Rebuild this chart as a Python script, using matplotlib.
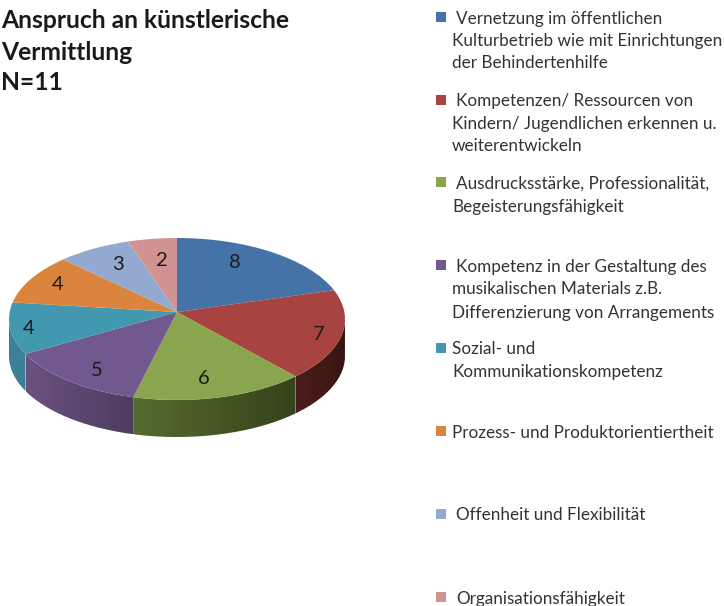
import matplotlib
matplotlib.use('Agg')
import matplotlib.pyplot as plt
from matplotlib.colors import to_rgb
from matplotlib.patches import PathPatch, Rectangle
from matplotlib.path import Path
import numpy as np

plt.rcParams['font.family'] = ['Lato', 'DejaVu Sans']

title_lines = ['Anspruch an künstlerische', 'Vermittlung', 'N=11']
values = [8, 7, 6, 5, 4, 4, 3, 2]
colors = ['#4572A7', '#A74442', '#89A54E', '#71588F', '#4198AF', '#DB843D', '#93A9CF', '#D19392']
# linke/rechte Farbe der sichtbaren Seitenwand
side_colors = {
    1: ('#4A1E1C', '#3A1412'),
    2: ('#556B2E', '#36431B'),
    3: ('#6A5280', '#4D3B60'),
    4: ('#3B8096', '#3B8096'),
}
legend_labels = [
    ['Vernetzung im öffentlichen', 'Kulturbetrieb wie mit Einrichtungen', 'der Behindertenhilfe'],
    ['Kompetenzen/ Ressourcen von', 'Kindern/ Jugendlichen erkennen u.', 'weiterentwickeln'],
    ['Ausdrucksstärke, Professionalität,', 'Begeisterungsfähigkeit'],
    ['Kompetenz in der Gestaltung des', 'musikalischen Materials z.B.', 'Differenzierung von Arrangements'],
    ['Sozial- und', 'Kommunikationskompetenz'],
    ['Prozess- und Produktorientiertheit'],
    ['Offenheit und Flexibilität'],
    ['Organisationsfähigkeit'],
]

W, H = 724, 606
CX, CY, RX, RY = 177, 319, 168, 81
DEPTH = 37
PERSP = 0.086  # Perspektive: Tortenmitte liegt oberhalb der Ellipsenmitte
ratio = RY / RX


def persp(x, y):
    """Perspektive auf dem Einheitskreis."""
    d = 1 + PERSP * y
    return x * np.sqrt(1 - PERSP ** 2) / d, (y + PERSP) / d


fig = plt.figure(figsize=(W / 100, H / 100), dpi=100)

# Tortenachse: y-Skala gestaucht, damit der Kreis zur Ellipse wird
ax = fig.add_axes([0, 0, 1, 1])
ymax = H / ratio
center = (CX, (H - CY) / ratio)

fracs = np.cumsum([0] + values) / sum(values)
angles = np.radians(90 - 360 * fracs)
px, py = persp(np.cos(angles), np.sin(angles))
rim = np.degrees(np.unwrap(np.arctan2(py, px)))

# Seitenwand mit Farbverlauf
for i, (c_left, c_right) in side_colors.items():
    t_a, t_b = rim[i + 1], rim[i]
    t_a, t_b = max(t_a, -180), min(t_b, 0)
    t = np.radians(np.linspace(t_a, t_b, 80))
    x = CX + RX * np.cos(t)
    y_top = center[1] + RX * np.sin(t)
    y_bot = y_top - DEPTH / ratio
    verts = np.r_[np.c_[x, y_top], np.c_[x[::-1], y_bot[::-1]], [[x[0], y_top[0]]]]
    patch = PathPatch(Path(verts), transform=ax.transData, facecolor='none', edgecolor='none')
    ax.add_patch(patch)
    grad = np.linspace(np.array(to_rgb(c_left)), np.array(to_rgb(c_right)), 64)[None, :, :]
    im = ax.imshow(grad, extent=[x.min(), x.max(), y_bot.min(), y_top.max()], aspect='auto', zorder=1)
    im.set_clip_path(patch)

wedges, _ = ax.pie(values, colors=colors, startangle=90, counterclock=False,
                   radius=RX, center=center, frame=True)
for w in wedges:
    w.set_zorder(2)
    p = w.get_path()
    v = p.vertices.copy()
    nx, ny = persp((v[:, 0] - center[0]) / RX, (v[:, 1] - center[1]) / RX)
    w._path = Path(np.c_[center[0] + nx * RX, center[1] + ny * RX], p.codes)

ax.set_aspect('auto')
ax.set_xlim(0, W)
ax.set_ylim(0, ymax)
ax.set_axis_off()

# Overlay in Pixelkoordinaten fuer Texte
ov = fig.add_axes([0, 0, 1, 1], facecolor='none')
ov.set_xlim(0, W)
ov.set_ylim(H, 0)
ov.set_axis_off()

for line, y in zip(title_lines, [21, 53, 83]):
    ov.text(1, y, line, fontsize=17.7, fontweight='bold', color='#1a1a1a', va='center', ha='left')

label_pos = [(235, 263), (319, 334), (204, 379), (97, 371), (29, 328), (58, 285), (118, 264), (162, 260)]
for v, (x, y) in zip(values, label_pos):
    ov.text(x, y, str(v), fontsize=14.5, color='#1a1a1a', ha='center', va='center')

legend_y = [[19, 41, 63], [101, 124, 146], [184, 207], [267, 289, 313], [349, 372], [433], [515], [599]]
legend_x0 = [456, 456, 456, 456, 452, 452, 456, 456]
marker_y = [17, 100, 182, 265, 348, 431, 514, 597]
for labels, ys, x0, my, c in zip(legend_labels, legend_y, legend_x0, marker_y, colors):
    ov.add_patch(Rectangle((436, my - 5), 10, 10, facecolor=c, edgecolor='none'))
    for j, (line, y) in enumerate(zip(labels, ys)):
        ov.text(x0 if j == 0 else 452, y, line, fontsize=12.35, color='#333333', va='center', ha='left')

fig.savefig('out.png', dpi=100)
